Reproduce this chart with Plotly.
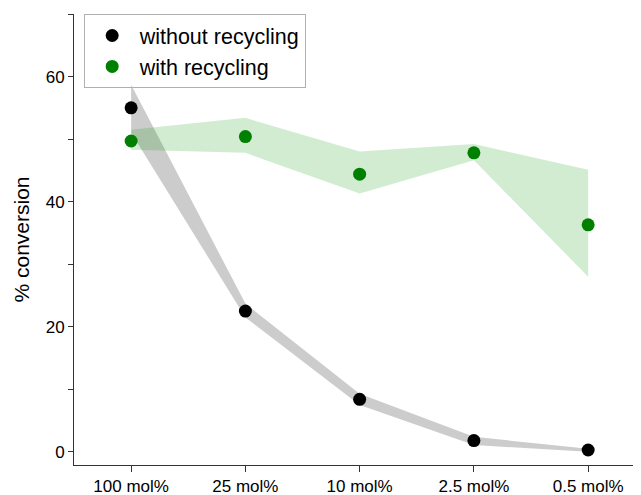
import plotly.graph_objects as go

categories = ["100 mol%", "25 mol%", "10 mol%", "2.5 mol%", "0.5 mol%"]

without_mean = [55.0, 22.5, 8.4, 1.8, 0.3]
without_upper = [58.7, 23.7, 9.3, 2.4, 0.5]
without_lower = [51.0, 21.5, 7.5, 1.1, 0.0]

with_mean = [49.7, 50.4, 44.4, 47.8, 36.3]
with_upper = [51.5, 53.4, 48.0, 49.2, 45.1]
with_lower = [48.3, 47.8, 41.3, 46.6, 28.0]

y_major = [0, 20, 40, 60]

fig = go.Figure()

fig.add_trace(go.Scatter(
    x=categories + categories[::-1],
    y=without_upper + without_lower[::-1],
    fill="toself", fillcolor="rgba(0,0,0,0.2)",
    line=dict(width=0), mode="lines", hoverinfo="skip", showlegend=False))

fig.add_trace(go.Scatter(
    x=categories + categories[::-1],
    y=with_upper + with_lower[::-1],
    fill="toself", fillcolor="rgba(0,150,0,0.18)",
    line=dict(width=0), mode="lines", hoverinfo="skip", showlegend=False))

fig.add_trace(go.Scatter(
    x=categories, y=without_mean, mode="markers", name="without recycling",
    marker=dict(color="black", size=13)))

fig.add_trace(go.Scatter(
    x=categories, y=with_mean, mode="markers", name="with recycling",
    marker=dict(color="#008000", size=13)))

# page body has a small margin; compensate so plot area spans x 72-641, y 14-465
fig.update_layout(
    width=635, height=487,
    margin=dict(l=66, r=0, t=6, b=30, autoexpand=False),
    plot_bgcolor="white", paper_bgcolor="white",
    font=dict(family="Arial, Liberation Sans, sans-serif", size=17, color="black"),
    legend=dict(
        x=0.017, y=1.0, xanchor="left", yanchor="top",
        bordercolor="#b0b0b0", borderwidth=1, bgcolor="rgba(255,255,255,0)",
        font=dict(size=21.5), itemwidth=45, tracegroupgap=0,
    ),
)

fig.update_xaxes(
    type="category", categoryorder="array", categoryarray=categories,
    range=[-0.5, 4.48], showline=True, linecolor="#333", linewidth=1,
    ticks="outside", ticklen=6, tickcolor="#333", showgrid=False, zeroline=False,
    tickfont=dict(size=17),
)

fig.update_yaxes(
    range=[-2.1, 70], showline=True, linecolor="#333", linewidth=1,
    tickvals=y_major, ticks="outside", ticklen=5, tickcolor="#333",
    showgrid=False, zeroline=False, tickfont=dict(size=17),
    minor=dict(tickvals=[10, 30, 50, 70], ticks="outside", ticklen=5, tickcolor="#333"),
    title=dict(text="% conversion", font=dict(size=21), standoff=10),
)

fig.write_html("out.html")
